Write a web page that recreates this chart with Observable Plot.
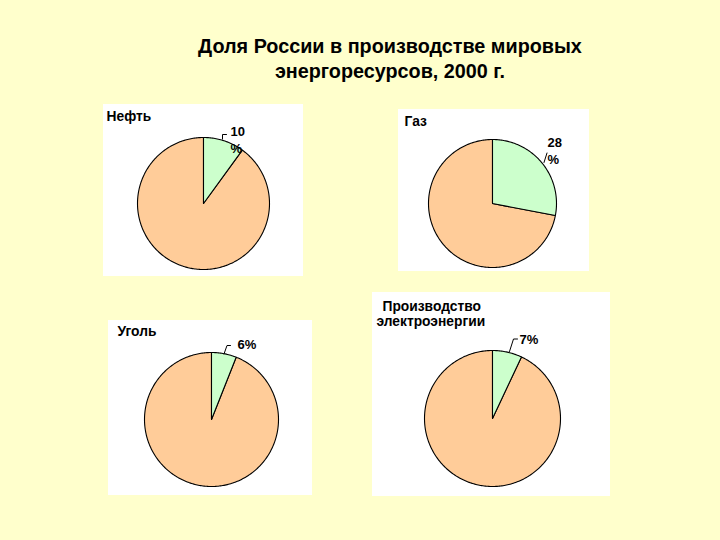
<!DOCTYPE html>
<html><head><meta charset="utf-8">
<script src="https://cdn.jsdelivr.net/npm/d3@7"></script>
<script src="https://cdn.jsdelivr.net/npm/@observablehq/plot@0.6"></script>
<style>
html,body{margin:0;padding:0;background:#FFFFCC;font-family:"Liberation Sans",Arial,sans-serif;}
#title{width:720px;height:95px;box-sizing:border-box;padding:34px 0 0 60px;margin:0;text-align:center;font-weight:bold;font-size:19.8px;line-height:25px;color:#000;}
#chart svg{display:block;}
</style>
</head><body>
<div id="title">Доля России в производстве мировых<br>энергоресурсов, 2000 г.</div>
<div id="chart"></div>
<script>
// ---- data ----
const categories = ["Нефть", "Газ", "Уголь", "Производство электроэнергии"];
const panelLabels = [["Нефть"], ["Газ"], ["Уголь"], ["Производство", "электроэнергии"]];
const russiaShare = [10, 28, 6, 7];           // % of world production
const shareLabels = ["10\n%", "28\n%", "6%", "7%"];
const sliceColors = ["#CCFFCC", "#FFCC99"];   // Russia, rest of world

// ---- layout (page pixel coordinates) ----
const layout = [
  {px1:103, py1:104, px2:303, py2:276, cx:203, cy:203, r:66,
   labels:[{x:106, y:120}], pct:{x:230, y:152},
   leader:[[222,138.5],[222,134],[226,134]]},
  {px1:398, py1:109, px2:589, py2:271, cx:492, cy:203, r:64,
   labels:[{x:404, y:125}], pct:{x:547, y:163},
   leader:[[543.5,162],[546.5,152.5]]},
  {px1:108, py1:320, px2:312, py2:495, cx:211, cy:419, r:67,
   labels:[{x:117, y:335}], pct:{x:237, y:348},
   leader:[[223.5,353.5],[226.5,345],[230,345]]},
  {px1:372, py1:292, px2:610, py2:496, cx:492, cy:418, r:68,
   labels:[{x:382, y:310}, {x:376, y:325}], pct:{x:519, y:343},
   leader:[[509,351],[513,338.5],[517,338.5]]}
];

// ---- build marks data ----
const panels = layout.map((L, i) => ({x1:L.px1, x2:L.px2, y1:L.py1, y2:L.py2, name:categories[i]}));
const slicePts = [];
categories.forEach((cat, i) => {
  const L = layout[i];
  const arcs = d3.pie().sort(null).startAngle(0).endAngle(2*Math.PI)([russiaShare[i], 100 - russiaShare[i]]);
  // draw rest-of-world first, Russia on top
  [1, 0].forEach(k => {
    const a = arcs[k];
    const id = cat + "-" + k;
    const fill = sliceColors[k];
    slicePts.push({id, fill, x:L.cx, y:L.cy});
    const n = Math.max(2, Math.ceil((a.endAngle - a.startAngle) / (Math.PI/180)));
    for (let j = 0; j <= n; j++) {
      const t = a.startAngle + (a.endAngle - a.startAngle) * j / n;
      slicePts.push({id, fill, x:L.cx + L.r*Math.sin(t), y:L.cy - L.r*Math.cos(t)});
    }
    slicePts.push({id, fill, x:L.cx, y:L.cy});
  });
});
const labelTexts = [];
layout.forEach((L, i) => panelLabels[i].forEach((t, j) => labelTexts.push({x:L.labels[j].x, y:L.labels[j].y, text:t})));
const pctTexts = layout.map((L, i) => ({x:L.pct.x, y:L.pct.y, text:shareLabels[i]}));
const leaderPts = [];
layout.forEach((L, i) => L.leader.forEach(p => leaderPts.push({id:i, x:p[0], y:p[1]})));

const chart = Plot.plot({
  width: 720, height: 445,
  margin: 0,
  style: {background: "transparent", overflow: "visible", fontFamily: "'Liberation Sans', Arial, sans-serif"},
  x: {type: "linear", domain: [0, 720], range: [0, 720], axis: null},
  y: {type: "linear", domain: [95, 540], range: [0, 445], axis: null},
  color: {type: "identity"},
  marks: [
    Plot.rect(panels, {x1:"x1", x2:"x2", y1:"y1", y2:"y2", fill:"#FFFFFF"}),
    Plot.line(slicePts, {x:"x", y:"y", z:"id", fill:"fill", stroke:"#000", strokeWidth:1.1, curve:"linear"}),
    Plot.line(leaderPts, {x:"x", y:"y", z:"id", stroke:"#000", strokeWidth:1}),
    Plot.text(labelTexts, {x:"x", y:"y", text:"text", textAnchor:"start", lineAnchor:"bottom", fontWeight:"bold", fontSize:13.8, fill:"#000"}),
    Plot.text(pctTexts, {x:"x", y:"y", text:"text", textAnchor:"start", lineAnchor:"bottom", lineHeight:1.28, fontWeight:"bold", fontSize:13, fill:"#000"})
  ]
});
document.getElementById("chart").appendChild(chart);
</script>
</body></html>
